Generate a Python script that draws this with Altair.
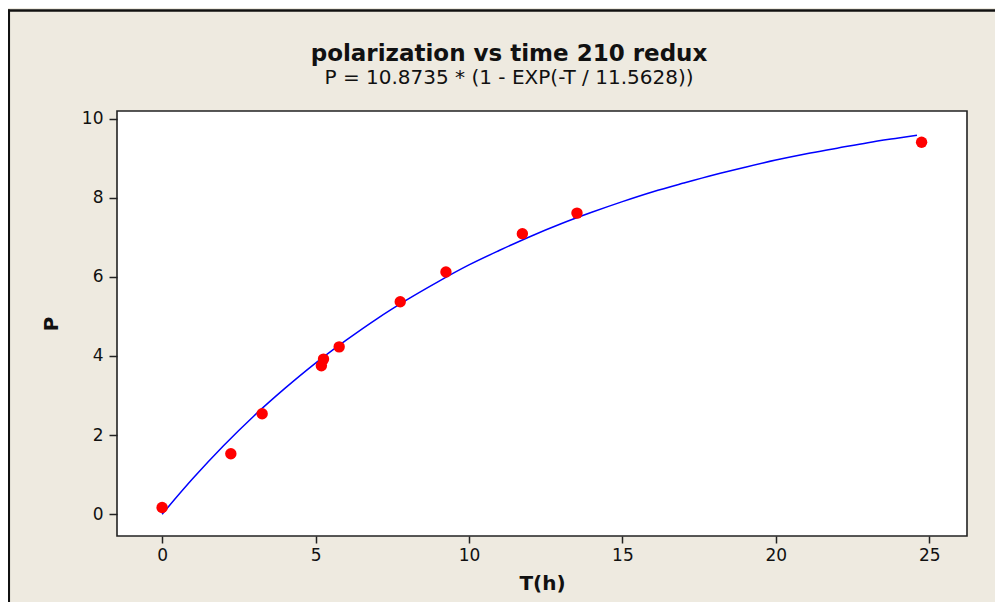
import altair as alt
import pandas as pd

T_obs = [0.0, 2.24, 3.26, 5.19, 5.26, 5.77, 7.76, 9.25, 11.74, 13.52, 24.75]
P_obs = [0.17, 1.53, 2.54, 3.75, 3.92, 4.23, 5.37, 6.12, 7.09, 7.61, 9.40]

# Fitted curve, values
T_fit = [0, 1, 2, 3, 4, 5, 6, 7, 8, 9, 10, 11, 12, 13, 14, 15, 16, 17, 18, 19,
         20, 21, 22, 23, 24, 24.6]
P_fit = [0.0, 0.90, 1.73, 2.49, 3.18, 3.82, 4.40, 4.94, 5.43, 5.88, 6.30, 6.67,
         7.02, 7.34, 7.63, 7.90, 8.15, 8.37, 8.58, 8.77, 8.95, 9.11, 9.25, 9.39,
         9.51, 9.58]

x_ticks = [0, 5, 10, 15, 20, 25]
y_ticks = [0, 2, 4, 6, 8, 10]

TITLE = "polarization vs time 210 redux"
SUBTITLE = "P = 10.8735 * (1 - EXP(-T / 11.5628))"

obs = pd.DataFrame({"T": T_obs, "P": P_obs})
fit = pd.DataFrame({"T": T_fit, "P": P_fit})

FONT = "DejaVu Sans"

xs = alt.Scale(domain=[-1.47, 26.23], nice=False, zero=False)
ys = alt.Scale(domain=[-0.55, 10.19], nice=False, zero=False)

xaxis = alt.Axis(values=x_ticks, title="T(h)", grid=False, domain=False,
                 tickSize=7, tickWidth=1.5, tickColor="#222", labelPadding=4,
                 titlePadding=10)
yaxis = alt.Axis(values=y_ticks, title="P", grid=False, domain=False,
                 tickSize=8, tickWidth=1.5, tickColor="#222", labelPadding=6,
                 titlePadding=20)

line = alt.Chart(fit).mark_line(color="#0000FF", strokeWidth=1.5,
                                interpolate="monotone").encode(
    x=alt.X("T:Q", scale=xs, axis=xaxis),
    y=alt.Y("P:Q", scale=ys, axis=yaxis),
)

points = alt.Chart(obs).mark_circle(color="#FF0000", opacity=1, size=130).encode(
    x=alt.X("T:Q", scale=xs),
    y=alt.Y("P:Q", scale=ys),
)

one = pd.DataFrame({"a": [0]})
border_left = alt.Chart(one).mark_rule(color="#111", strokeWidth=2.5, clip=False).encode(
    x=alt.value(-108.2), y=alt.value(-101.5), y2=alt.value(600)
)
border_top = alt.Chart(one).mark_rule(color="#111", strokeWidth=2.5, clip=False).encode(
    x=alt.value(-109.3), x2=alt.value(900), y=alt.value(-100.5)
)

chart = alt.layer(line, points, border_left, border_top).properties(
    width=850,
    height=425,
    title=alt.TitleParams(
        text=TITLE,
        subtitle=SUBTITLE,
        font=FONT,
        fontSize=23,
        fontWeight="bold",
        color="#111",
        subtitleFont=FONT,
        subtitleFontSize=20,
        subtitleColor="#111",
        subtitlePadding=2,
        anchor="middle",
        frame="group",
        dx=-33,
        offset=-80,
    ),
    autosize=alt.AutoSizeParams(type="none"),
    padding={"left": 109, "top": 103, "right": 28, "bottom": 66},
).configure(
    background="#EEEAE0",
).configure_view(
    fill="#FFFFFF",
    stroke="#222",
    strokeWidth=1.6,
).configure_axis(
    labelFont=FONT,
    labelFontSize=17,
    labelColor="#111",
    titleFont=FONT,
    titleFontSize=20,
    titleFontWeight="bold",
    titleColor="#111",
)

chart.save("out.html", embed_options={"renderer": "svg", "actions": False})
